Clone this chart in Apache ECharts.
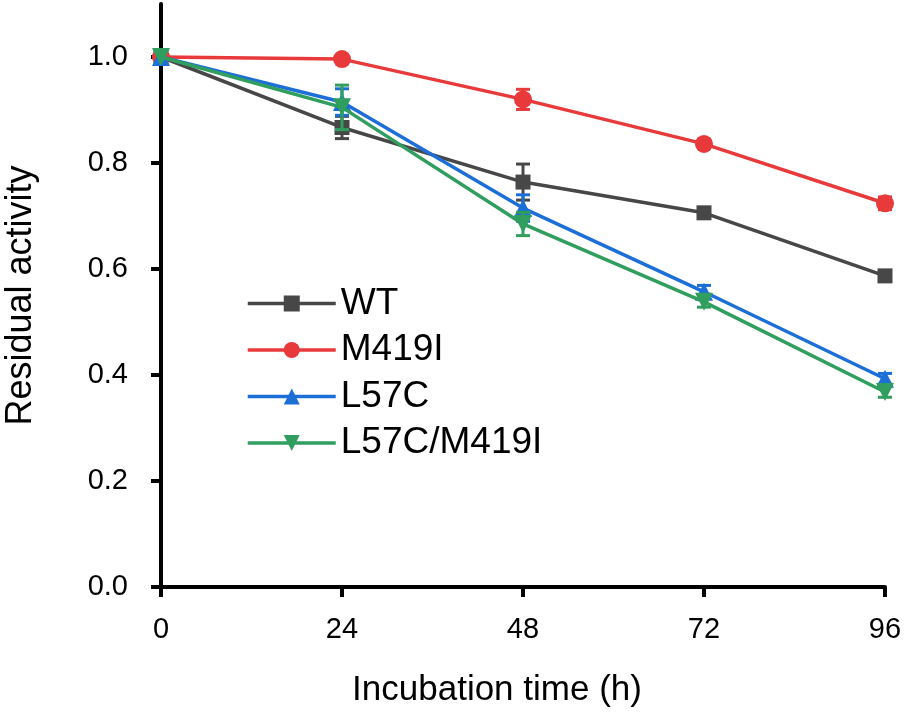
<!DOCTYPE html>
<html>
<head>
<meta charset="utf-8">
<script src="https://cdn.jsdelivr.net/npm/echarts@6/dist/echarts.min.js"></script>
<style>html,body{margin:0;padding:0;background:#fff}#c{width:904px;height:716px}</style>
</head>
<body>
<div id="c"></div>
<script>
const hours = [0, 24, 48, 72, 96];
const seriesNames = ['WT', 'M419I', 'L57C', 'L57C/M419I'];
const wtValues = [1.0, 0.867, 0.764, 0.706, 0.587];
const wtErrors = [0, 0.021, 0.034, 0.008, 0.008];
const m419iValues = [1.0, 0.996, 0.920, 0.836, 0.724];
const m419iErrors = [0, 0.004, 0.019, 0.008, 0.012];
const l57cValues = [1.0, 0.915, 0.715, 0.557, 0.393];
const l57cErrors = [0, 0.025, 0.025, 0.012, 0.01];
const doubleValues = [1.0, 0.905, 0.685, 0.538, 0.368];
const doubleErrors = [0, 0.042, 0.022, 0.01, 0.01];
const yTicks = [0, 0.2, 0.4, 0.6, 0.8, 1.0];
const xTicks = [0, 24, 48, 72, 96];

const colors = ['#474747', '#e8393b', '#1d6fd8', '#2f9e5f'];
const symbols = ['rect', 'circle', 'triangle', 'path://M0,0 L10,0 L5,9 Z'];
const symbolSizes = [15, 18, 18, 18];
const allValues = [wtValues, m419iValues, l57cValues, doubleValues];
const allErrors = [wtErrors, m419iErrors, l57cErrors, doubleErrors];

const series = [];
seriesNames.forEach((name, i) => {
  series.push({
    name: name,
    type: 'line',
    data: hours.map((h, k) => [h, allValues[i][k]]),
    symbol: symbols[i],
    symbolSize: symbolSizes[i],
    lineStyle: { color: colors[i], width: 3.5 },
    itemStyle: { color: colors[i] },
    z: 3 + i
  });
  series.push({
    name: name,
    type: 'custom',
    data: hours.map((h, k) => [h, allValues[i][k], allErrors[i][k]]),
    z: 3 + i,
    renderItem: function (params, api) {
      const x = api.value(0), y = api.value(1), e = api.value(2);
      if (!e) return null;
      const top = api.coord([x, y + e]);
      const bot = api.coord([x, y - e]);
      const w = 7;
      const st = { stroke: colors[i], lineWidth: 3 };
      return {
        type: 'group',
        children: [
          { type: 'line', shape: { x1: top[0], y1: top[1], x2: bot[0], y2: bot[1] }, style: st },
          { type: 'line', shape: { x1: top[0] - w, y1: top[1], x2: top[0] + w, y2: top[1] }, style: st },
          { type: 'line', shape: { x1: bot[0] - w, y1: bot[1], x2: bot[0] + w, y2: bot[1] }, style: st }
        ]
      };
    }
  });
});

const font = 'Liberation Sans, Arial, sans-serif';
const chart = echarts.init(document.getElementById('c'));
chart.setOption({
  animation: false,
  backgroundColor: '#fff',
  grid: { left: 161, right: 19, top: 4, bottom: 129, containLabel: false, outerBoundsMode: 'none' },
  legend: {
    orient: 'vertical',
    left: 246,
    top: 285,
    padding: 0,
    itemWidth: 88,
    itemHeight: 20,
    itemGap: 9.5,
    data: seriesNames,
    lineStyle: { width: 3.5 },
    textStyle: { fontSize: 37, fontFamily: font, color: '#000' }
  },
  xAxis: {
    type: 'value',
    min: 0, max: 96, interval: 24,
    name: 'Incubation time (h)',
    nameLocation: 'middle',
    nameGap: 86,
    nameTextStyle: { fontSize: 35, fontFamily: font, color: '#000', padding: [0, 52, 0, 0] },
    axisLine: { show: true, onZero: false, lineStyle: { color: '#000', width: 4 } },
    axisTick: { show: true, length: 10, lineStyle: { color: '#000', width: 4 }, customValues: xTicks },
    axisLabel: { fontSize: 29, fontFamily: font, color: '#000', margin: 28, customValues: xTicks },
    splitLine: { show: false }
  },
  yAxis: {
    type: 'value',
    min: 0, max: 1.1, interval: 0.2,
    name: 'Residual activity',
    nameLocation: 'middle',
    nameGap: 122,
    nameTextStyle: { fontSize: 36, fontFamily: font, color: '#000' },
    axisLine: { show: true, onZero: false, lineStyle: { color: '#000', width: 4 } },
    axisTick: { show: true, length: 10, lineStyle: { color: '#000', width: 4 }, customValues: yTicks },
    axisLabel: { fontSize: 29, fontFamily: font, color: '#000', margin: 33, customValues: yTicks,
      formatter: v => v.toFixed(1) },
    splitLine: { show: false }
  },
  series: series
});
</script>
</body>
</html>
